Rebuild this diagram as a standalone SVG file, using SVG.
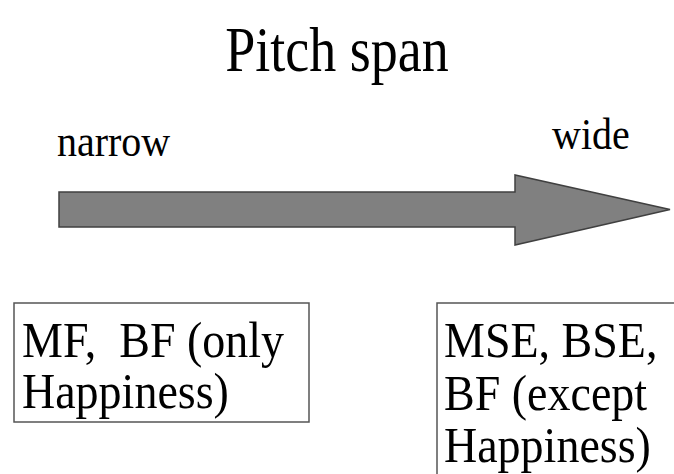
<svg xmlns="http://www.w3.org/2000/svg" width="674" height="474" viewBox="0 0 674 474">
  <style>
    text { font-family: "Liberation Serif", "Times New Roman", serif; fill: #000; white-space: pre; }
    .title { font-size: 54px; }
    .end { font-size: 40px; }
    .box { fill: #fff; stroke: #555; stroke-width: 1.5; }
    .lbl { font-size: 46px; }
  </style>
  <rect width="674" height="474" fill="#fff"/>
  <g id="title">
    <text class="title" transform="translate(337,71) scale(1,1.17)" text-anchor="middle">Pitch span</text>
  </g>
  <g id="scale-ends">
    <text class="end" transform="translate(57,156) scale(1,1.12)">narrow</text>
    <text class="end" transform="translate(552,149) scale(1,1.12)">wide</text>
  </g>
  <g id="connectors">
    <polygon points="59,192 515,192 515,175 670,209.5 515,245 515,227 59,227" fill="#808080" stroke="#404040" stroke-width="1.5" stroke-linejoin="miter"/>
  </g>
  <g id="narrow-box">
    <rect class="box" x="14" y="303" width="295" height="119"/>
    <text class="lbl" xml:space="preserve" transform="translate(22,357) scale(1,1.1)">MF,  BF (only</text>
    <text class="lbl" transform="translate(22,408) scale(1,1.1)">Happiness)</text>
  </g>
  <g id="wide-box">
    <rect class="box" x="437" y="303" width="250" height="190"/>
    <text class="lbl" transform="translate(444,357) scale(1,1.1)">MSE, BSE,</text>
    <text class="lbl" transform="translate(444,410) scale(1,1.1)">BF (except</text>
    <text class="lbl" transform="translate(444,462) scale(1,1.1)">Happiness)</text>
  </g>
</svg>
